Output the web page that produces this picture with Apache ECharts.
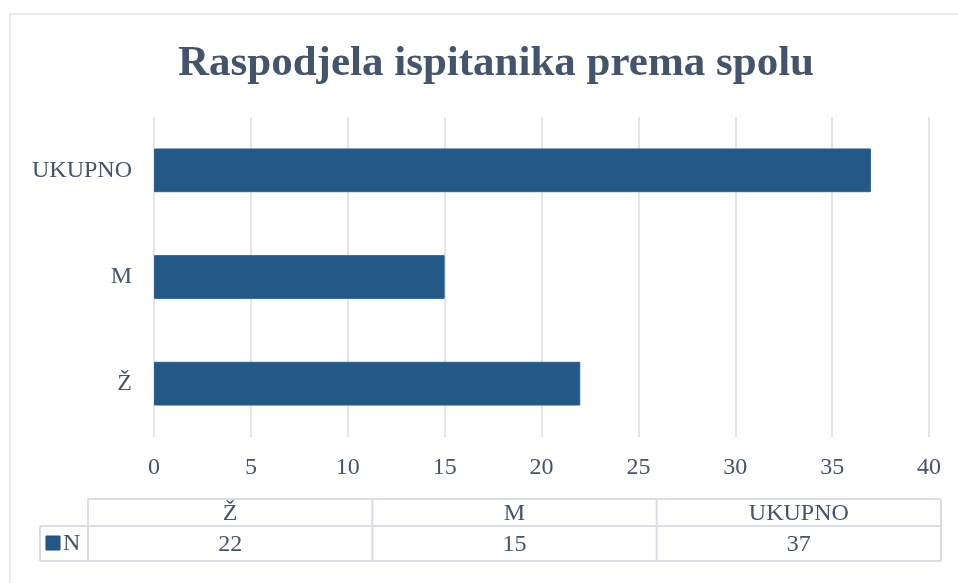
<!DOCTYPE html>
<html>
<head>
<meta charset="utf-8">
<script src="https://cdn.jsdelivr.net/npm/echarts@6/dist/echarts.min.js"></script>
<style>
html,body{margin:0;padding:0;background:#fff;}
#chart{width:958px;height:583px;}
</style>
</head>
<body>
<div id="chart"></div>
<script>
var title = 'Raspodjela ispitanika prema spolu';
var categories = ['Ž', 'M', 'UKUPNO'];
var seriesName = 'N';
var values = [22, 15, 37];
var xTicks = [0, 5, 10, 15, 20, 25, 30, 35, 40];

var textColor = '#44546a';
var gridColor = '#d9dde5';
var barColor = '#245887';
var font = '"Liberation Serif", "Times New Roman", serif';
var fs = 24;

var chart = echarts.init(document.getElementById('chart'));

// data table built from the arrays
var tbl = { x0: 40, xh: 88, x1: 941, yTop: 499, yMid: 526, yBot: 561 };
var colW = (tbl.x1 - tbl.xh) / categories.length;
var g = [];
g.push({ type: 'rect', shape: { x: 10, y: 14, width: 970, height: 600 }, style: { fill: 'none', stroke: '#dfe3ea', lineWidth: 1.5 }, silent: true });
var lineStyle = { stroke: gridColor, lineWidth: 2 };
g.push({ type: 'line', shape: { x1: tbl.xh, y1: tbl.yTop, x2: tbl.x1, y2: tbl.yTop }, style: lineStyle });
g.push({ type: 'line', shape: { x1: tbl.x0, y1: tbl.yMid, x2: tbl.x1, y2: tbl.yMid }, style: lineStyle });
g.push({ type: 'line', shape: { x1: tbl.x0, y1: tbl.yBot, x2: tbl.x1, y2: tbl.yBot }, style: lineStyle });
g.push({ type: 'line', shape: { x1: tbl.x0, y1: tbl.yMid, x2: tbl.x0, y2: tbl.yBot }, style: lineStyle });
for (var i = 0; i <= categories.length; i++) {
  var x = tbl.xh + colW * i;
  g.push({ type: 'line', shape: { x1: x, y1: tbl.yTop, x2: x, y2: tbl.yBot }, style: lineStyle });
}
categories.forEach(function (c, i) {
  var cx = tbl.xh + colW * (i + 0.5);
  g.push({ type: 'text', x: cx, y: (tbl.yTop + tbl.yMid) / 2 + 1, style: { text: c, fill: textColor, font: fs + 'px ' + font, align: 'center', verticalAlign: 'middle' } });
  g.push({ type: 'text', x: cx, y: (tbl.yMid + tbl.yBot) / 2 + 1, style: { text: String(values[i]), fill: textColor, font: fs + 'px ' + font, align: 'center', verticalAlign: 'middle' } });
});
g.push({ type: 'rect', shape: { x: 46, y: 536, width: 14, height: 14 }, style: { fill: barColor, stroke: '#1f4e79', lineWidth: 1 } });
g.push({ type: 'text', x: 63, y: 544, style: { text: seriesName, fill: textColor, font: fs + 'px ' + font, align: 'left', verticalAlign: 'middle' } });

chart.setOption({
  backgroundColor: '#fff',
  animation: false,
  title: {
    text: title,
    left: 173,
    top: 37,
    textStyle: { fontFamily: font, fontSize: 43, fontWeight: 'bold', color: textColor }
  },
  grid: { left: 154, right: 29, top: 117, bottom: 146, containLabel: false },
  xAxis: {
    type: 'value',
    min: 0, max: 40, interval: 5,
    axisLine: { show: false },
    axisTick: { show: false },
    splitLine: { show: true, lineStyle: { color: gridColor, width: 1.5 } },
    axisLabel: { color: textColor, fontFamily: font, fontSize: fs, margin: 19,
      formatter: function (v) { return xTicks.indexOf(v) >= 0 ? String(v) : ''; } }
  },
  yAxis: {
    type: 'category',
    data: categories,
    axisLine: { show: false },
    axisTick: { show: false },
    axisLabel: { color: textColor, fontFamily: font, fontSize: fs, margin: 22 }
  },
  series: [{
    name: seriesName,
    type: 'bar',
    data: values,
    barWidth: '41%',
    itemStyle: { color: barColor, borderColor: '#2b5f8f', borderWidth: 1 }
  }],
  graphic: g
});
</script>
</body>
</html>
